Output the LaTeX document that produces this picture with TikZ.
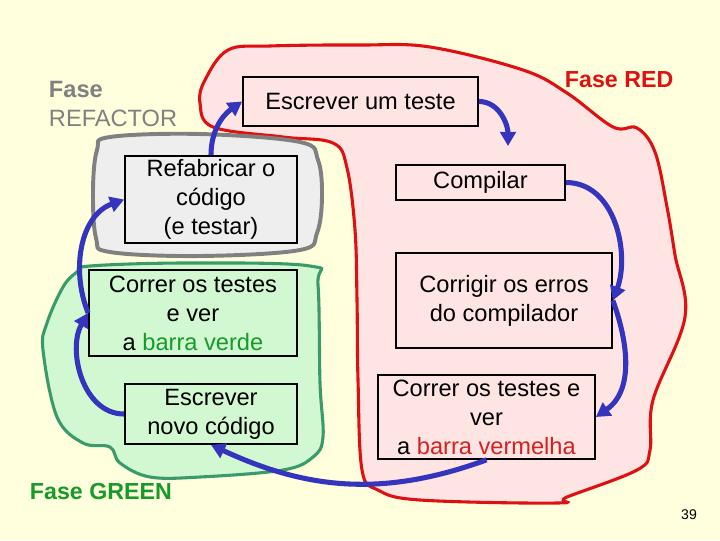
\documentclass[tikz,border=0pt]{standalone}
\usepackage{fontspec}
\setmainfont{Liberation Sans}
\usetikzlibrary{arrows.meta}
\definecolor{bgcream}{HTML}{FFFFDD}
\definecolor{redline}{HTML}{DD1111}
\definecolor{redfill}{HTML}{FFE4E4}
\definecolor{grayline}{HTML}{808080}
\definecolor{grayfill}{HTML}{EEEEEE}
\definecolor{greenline}{HTML}{3A9A6A}
\definecolor{greenfill}{HTML}{D2F8D2}
\definecolor{greentext}{HTML}{179A2A}
\definecolor{redtext}{HTML}{D42020}
\definecolor{arrowblue}{HTML}{3434BC}
\begin{document}
\begin{tikzpicture}[x=0.025cm, y=-0.025cm,
  every node/.style={font=\fontsize{16.8}{20.6}\selectfont},
  tbox/.style={draw, line width=1.2pt, align=center, inner sep=0pt},
  flow/.style={line width=3.6pt, draw=arrowblue, -{Triangle[length=10pt,width=11pt]}},
  phase/.style={font=\fontsize{16.5}{20}\selectfont\bfseries, anchor=west},
  blob/.style={line width=2.2pt}]
  % Background, 720 x 540 px
  \fill[bgcream] (0,0) rectangle (720,540);
  \useasboundingbox (0,0) rectangle (720,540);
  % Phase regions
  \draw[blob, draw=redline, fill=redfill] plot[smooth cycle, tension=0.6] coordinates {
    (205,80) (228,50) (270,46) (360,45) (430,47) (523,70) (567,93) (613,127)
    (637,128) (655,152) (667,207) (675,255) (685,317) (653,400) (650,450)
    (637,470) (567,497) (557,503) (420,500) (378,490) (362,470) (358,380)
    (357,300) (355,230) (347,168) (333,143) (283,137) (213,127) (200,103)};
  \draw[blob, line width=2.8pt, draw=grayline, fill=grayfill] plot[smooth cycle, tension=0.6] coordinates {
    (97,150) (110,137) (200,134) (300,142) (318,160) (322,197) (317,233)
    (300,250) (200,256) (110,252) (96,238) (93,190)};
  \draw[blob, draw=greenline, fill=greenfill] plot[smooth cycle, tension=0.6] coordinates {
    (77,272) (90,266) (187,263) (310,266) (318,285) (320,383) (323,437)
    (313,457) (283,470) (200,477) (150,477) (120,463) (110,447) (83,443)
    (57,417) (43,350) (47,323) (63,287)};
  % Steps
  \node[tbox, minimum width=5.875cm, minimum height=1.225cm] (escr) at (360.5,101.5) {Escrever um teste};
  \node[tbox, minimum width=4.3cm, minimum height=2.175cm] (refab) at (211,199.5) {Refabricar o\\código\\(e testar)};
  \node[tbox, minimum width=4.225cm, minimum height=0.875cm] (comp) at (480.5,182.5) {Compilar};
  \node[tbox, minimum width=5.2cm, minimum height=2.15cm] (verde) at (193,313) {Correr os testes\\e ver\\a \textcolor{greentext}{barra verde}};
  \node[tbox, minimum width=5.4cm, minimum height=2.375cm] (corr) at (504,300.5) {Corrigir os erros\\do compilador};
  \node[tbox, minimum width=4.3cm, minimum height=1.5cm] (novo) at (211,414) {Escrever\\novo código};
  \node[tbox, minimum width=5.425cm, minimum height=2.1cm] (verm) at (486.5,417) {Correr os testes e\\ver\\a \textcolor{redtext}{barra vermelha}};
  % Phase labels
  \node[anchor=north west, align=left, text=grayline] (refactor) at (44,76) {\textbf{Fase}\\REFACTOR};
  \node[phase, text=redline] (red) at (560,80) {Fase RED};
  \node[phase, text=greentext] (green) at (25,492) {Fase GREEN};
  \node[font=\fontsize{10}{12}\selectfont] (page) at (689,515) {39};
  % Cycle
  \coordinate (c1) at (508,146);
  \draw[flow] (refab.north) to[out=90, in=215] (escr.west);
  \draw[flow] (escr.east) to[out=0, in=90] (c1);
  \draw[flow] (comp.east) to[out=0, in=70] (corr.east);
  \draw[flow] (corr.east) to[out=-70, in=35] (verm.east);
  \draw[flow] (verm.south) to[out=-160, in=-25] (novo.south);
  \draw[flow] (novo.west) to[out=180, in=240] (verde.west);
  \draw[flow] (verde.west) to[out=112, in=200] (refab.west);
\end{tikzpicture}
\end{document}
